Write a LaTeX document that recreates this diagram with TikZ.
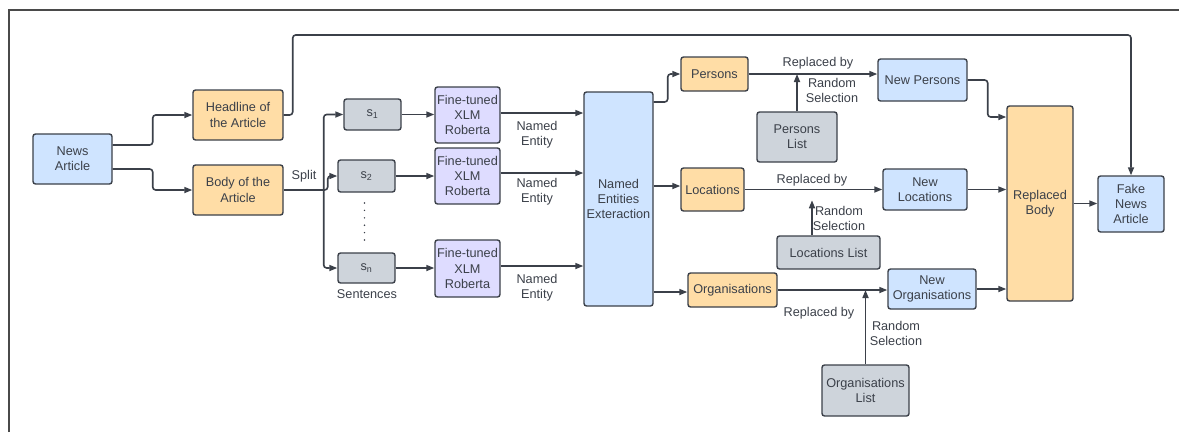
\documentclass[tikz,border=0pt]{standalone}
\usepackage{fontspec}
\setmainfont{Liberation Sans}
\usetikzlibrary{arrows.meta,calc}
\definecolor{ink}{HTML}{3B4049}
\definecolor{frame}{HTML}{4A4A4A}
\definecolor{bluefill}{HTML}{CFE4FF}
\definecolor{orangefill}{HTML}{FFDDA6}
\definecolor{grayfill}{HTML}{CED4DB}
\definecolor{purplefill}{HTML}{DEDCFF}
\begin{document}
\begin{tikzpicture}[x=1pt,y=-1pt,
  font=\fontsize{12.7}{15.3}\selectfont, text=ink,
  box/.style={draw=ink, line width=1.4pt, rounded corners=2.5pt, align=center, inner sep=0pt},
  dims/.style 2 args={minimum width=#1pt, minimum height=#2pt},
  bluebox/.style={box, fill=bluefill},
  orangebox/.style={box, fill=orangefill},
  graybox/.style={box, fill=grayfill},
  purplebox/.style={box, fill=purplefill},
  lbl/.style={align=center, inner sep=0pt},
  arr/.style={draw=ink, line width=1.6pt, rounded corners=3pt, -{Triangle[length=8pt,width=6pt]}},
  link/.style={draw=ink, line width=1.6pt, rounded corners=3pt}]
\useasboundingbox (0,0) rectangle (1179,432);

% outer frame (top and left edges)
\draw[frame, line width=1.5pt] (9,432) -- (9,10) -- (1179,10);

% input and split
\node[bluebox, dims={79}{50}] (news) at (72.5,159) {News\\Article};
\node[orangebox, dims={90}{50}] (head) at (238,115) {Headline of\\the Article};
\node[orangebox, dims={90}{50}] (body) at (238,190) {Body of the\\Article};

% sentences
\node[graybox, dims={57}{31}] (s1) at (372.5,114.5) {s\textsubscript{1}};
\node[graybox, dims={57}{32}] (s2) at (366.5,176) {s\textsubscript{2}};
\node[graybox, dims={57}{30}] (sn) at (366.5,268) {s\textsubscript{n}};
\foreach \k in {0,...,5} \fill[ink] (364.5,203+7.4*\k) circle (0.8pt);

% NER models
\node[purplebox, dims={65}{56}] (ft1) at (467.5,115) {Fine-tuned\\XLM\\Roberta};
\node[purplebox, dims={65}{56}] (ft2) at (467.5,176) {Fine-tuned\\XLM\\Roberta};
\node[purplebox, dims={65}{57}] (ft3) at (467.5,268.5) {Fine-tuned\\XLM\\Roberta};

\node[bluebox, dims={69}{214}] (nee) at (618.5,199) {Named\\Entities\\Exteraction};

% entity types
\node[orangebox, dims={67}{34}] (persons) at (714.5,74) {Persons};
\node[orangebox, dims={63}{43}] (locs) at (712.5,189.5) {Locations};
\node[orangebox, dims={89}{34}] (orgs) at (732.5,290) {Organisations};

% replacement lists
\node[graybox, dims={80}{50}] (plist) at (797,137) {Persons\\List};
\node[graybox, dims={103}{33}] (llist) at (828.5,252.5) {Locations List};
\node[graybox, dims={87}{51}] (olist) at (865.5,390.5) {Organisations\\List};

% new entities
\node[bluebox, dims={89}{42}] (newp) at (922.5,80) {New Persons};
\node[bluebox, dims={84}{41}] (newl) at (925,189.5) {New\\Locations};
\node[bluebox, dims={88}{40}] (newo) at (932,289) {New\\Organisations};

\node[orangebox, dims={66}{195}] (rbody) at (1040,203.5) {Replaced\\Body};
\node[bluebox, dims={66}{56}] (fake) at (1131,204) {Fake\\News\\Article};

% labels
\node[lbl] (lsplit) at (304,176) {Split};
\node[lbl] (lsent) at (367,294) {Sentences};
\node[lbl] (lne1) at (537,134.5) {Named\\Entity};
\node[lbl] (lne2) at (537,192) {Named\\Entity};
\node[lbl] (lne3) at (537,287.5) {Named\\Entity};
\node[lbl] (lrep1) at (818,63) {Replaced by};
\node[lbl] (lrnd1) at (832,90.5) {Random\\Selection};
\node[lbl] (lrep2) at (812,180) {Replaced by};
\node[lbl] (lrnd2) at (839,218.5) {Random\\Selection};
\node[lbl] (lrep3) at (819,313) {Replaced by};
\node[lbl] (lrnd3) at (896,333.5) {Random\\Selection};

% connectors: article to its parts
\draw[arr] ([yshift=14pt]news.east) -- ++(40,0) |- (head.west);
\draw[arr] ([yshift=-10pt]news.east) -- ++(40,0) |- (body.west);
\draw[arr] (head.east) -- ++(9,0) -- ++(0,-80) -| (fake.north);

% splitting into sentences
\draw[link] (body.east) -- ++(40,0) coordinate (sp);
\draw[arr] (sp) |- (s1.west);
\draw[arr] (sp) |- (sn.west);
\draw[arr] (sp) -- ++(4,0) |- (s2.west);

\draw[arr] (s1.east) -- (s1.east -| ft1.west);
\draw[arr] (s2.east) -- (s2.east -| ft2.west);
\draw[arr] (sn.east) -- (sn.east -| ft3.west);

\draw[arr] ([yshift=2pt]ft1.east) coordinate (a1) -- (a1 -| nee.west);
\draw[arr] ([yshift=3pt]ft2.east) coordinate (a2) -- (a2 -| nee.west);
\draw[arr] ([yshift=2.5pt]ft3.east) coordinate (a3) -- (a3 -| nee.west);

% entity extraction outputs
\draw[arr] ([yshift=97pt]nee.east) -- ++(14,0) |- (persons.west);
\draw[arr] ([yshift=13pt]nee.east) coordinate (b2) -- (b2 -| locs.west);
\draw[arr] ([yshift=-93pt]nee.east) coordinate (b3) -- (b3 -| orgs.west);

% replacement
\draw[arr] (persons.east) -- (persons.east -| newp.west);
\draw[arr] (plist.north) -- (plist.north |- persons.east);
\draw[arr] (locs.east) -- (locs.east -| newl.west);
\draw[arr] ([xshift=-16.5pt]llist.north) -- ++(0,-35);
\draw[arr] (orgs.east) -- (orgs.east -| newo.west);
\draw[arr] (olist.north) -- (olist.north |- orgs.east);

% assembling the fake article
\draw[arr] (newp.east) -- ++(20,0) |- ([yshift=86.5pt]rbody.west);
\draw[arr] (newl.east) -- (newl.east -| rbody.west);
\draw[arr] (newo.east) -- (newo.east -| rbody.west);
\draw[arr] (rbody.east) -- (rbody.east -| fake.west);
\end{tikzpicture}
\end{document}
